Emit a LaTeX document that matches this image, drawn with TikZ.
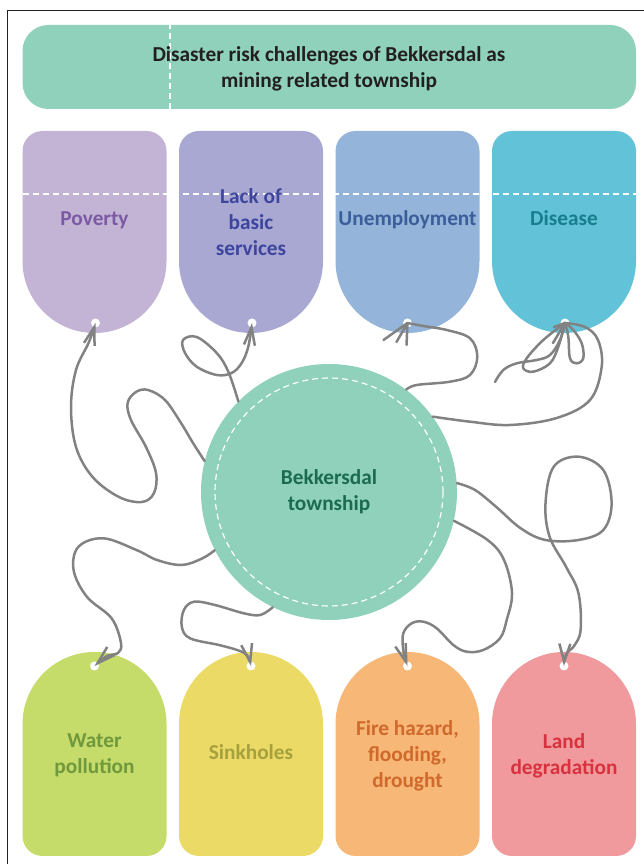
\documentclass[tikz,border=0pt]{standalone}
\usepackage{fontspec}
\setmainfont{Carlito}
\usetikzlibrary{arrows.meta}

\definecolor{mint}{HTML}{8FD1BB}
\definecolor{framegray}{HTML}{222222}
\definecolor{cordgray}{HTML}{828282}
\definecolor{povfill}{HTML}{C3B4D6}
\definecolor{lackfill}{HTML}{A8A8D2}
\definecolor{jobfill}{HTML}{94B4DA}
\definecolor{illfill}{HTML}{62C3D8}
\definecolor{waterfill}{HTML}{C5DB6A}
\definecolor{sinkfill}{HTML}{EBDA65}
\definecolor{firefill}{HTML}{F6B777}
\definecolor{landfill}{HTML}{F09A9D}
\definecolor{titletext}{HTML}{231F20}
\definecolor{povtext}{HTML}{7C5AA3}
\definecolor{lacktext}{HTML}{3E459F}
\definecolor{jobtext}{HTML}{3A5E9A}
\definecolor{illtext}{HTML}{177E8E}
\definecolor{towntext}{HTML}{1C6B50}
\definecolor{watertext}{HTML}{6F993C}
\definecolor{sinktext}{HTML}{A6A13E}
\definecolor{firetext}{HTML}{D06A2C}
\definecolor{landtext}{HTML}{D8323F}

\begin{document}
\begin{tikzpicture}[x=1pt, y=1pt, >={Straight Barb[length=18pt, width=11pt]},
    cord/.style={draw=cordgray, line width=2.5pt, line cap=round, line join=round},
    tagtext/.style={font=\fontsize{21.3}{25.8}\selectfont\bfseries, align=center},
    stitch/.style={draw=white, line width=1.2pt, dash pattern=on 6pt off 4pt}]
  \useasboundingbox (0,0) rectangle (644,864);
  \draw[framegray, line width=1.2pt] (644,853.7) -- (7.3,853.7) -- (7.3,0);

  \fill[mint, rounded corners=26] (22.5,755) rectangle (636,839);
  \draw[stitch] (170,755) -- (170,839);
  \node[tagtext, text=titletext] (title) at (329,795.5) {Disaster risk challenges of Bekkersdal as\\mining related township};

  \foreach \x/\col in {22.5/povfill, 179/lackfill, 335.5/jobfill, 492/illfill}
    \fill[\col] (\x,603) -- (\x,713) arc[start angle=180, end angle=90, radius=20]
      -- (\x+124,733) arc[start angle=90, end angle=0, radius=20]
      -- (\x+144,603) arc[start angle=0, end angle=-180, radius=72] -- cycle;
  \foreach \x/\col in {22.5/waterfill, 179/sinkfill, 335.5/firefill, 492/landfill}
    \fill[\col] (\x,140) -- (\x,28) arc[start angle=180, end angle=270, radius=20]
      -- (\x+124,8) arc[start angle=270, end angle=360, radius=20]
      -- (\x+144,140) arc[start angle=0, end angle=180, radius=72] -- cycle;
  \draw[stitch] (22.5,670) -- (644,670);

  \foreach \n/\x in {povhole/95.5, lackhole/252, jobhole/407.5, illhole/565}
    {\coordinate (\n) at (\x,541); \fill[white] (\n) circle[radius=4.5];}
  \foreach \n/\x in {waterhole/94.5, sinkhole/251, firehole/407.5, landhole/564}
    {\coordinate (\n) at (\x,198); \fill[white] (\n) circle[radius=4.5];}

  \node[tagtext, text=povtext] (poverty) at (94.5,644) {Poverty};
  \node[tagtext, text=lacktext] (services) at (251,642) {Lack of\\basic\\services};
  \node[tagtext, text=jobtext] (jobs) at (407.5,644) {Unemployment};
  \node[tagtext, text=illtext] (disease) at (564,646) {Disease};
  \node[tagtext, text=watertext] (water) at (94.5,108.5) {Water\\pollution};
  \node[tagtext, text=sinktext] (sinkholes) at (251,112) {Sinkholes};
  \node[tagtext, text=firetext] (fire) at (407.5,108) {Fire hazard,\\flooding,\\drought};
  \node[tagtext, text=landtext] (land) at (564,108.5) {Land\\degradation};

  \node[circle, fill=mint, minimum size=256pt, inner sep=0pt] (town) at (329,372) {};
  \draw[stitch] (town.center) circle[radius=114];
  \node[tagtext, text=towntext] (townname) at (town.center) {Bekkersdal\\township};

  % strings up to the top tags
  \draw[cord, ->] plot[smooth, tension=0.6] coordinates {(town.166) (193,421) (181,441) (165,464) (148,474) (136,472) (127.6,461) (131,444) (146,417) (156,391) (154,371) (142,362) (119,367) (92.6,387) (76,417) (71,457) (76,494) (89,522) (povhole)};
  \draw[cord, ->] plot[smooth, tension=0.6] coordinates {(town.135) (228.3,492.3) (216.7,511) (196.7,527) (183,524) (185,511) (196.7,497.3) (216.7,489) (231.7,491) (241.7,501) (248.3,517.3) (lackhole)};
  \draw[cord] plot[smooth, tension=0.6] coordinates {(town.53) (416.7,479) (450,482.3) (470,489) (477.3,507.3) (470,525.7) (446.7,534) (423.3,538) (jobhole)};
  \draw[cord] (jobhole) -- ++(-24,-17) (jobhole) -- ++(-11,-19) (jobhole) -- ++(-1,-22);
  \coordinate (looseend) at (495,482);
  \draw[cord] plot[smooth, tension=0.6] coordinates {(town.36) (470,442.3) (510,439) (556.7,446) (590,464) (601.7,497.3) (598,524) (585,537) (illhole)};
  \draw[cord] plot[smooth, tension=0.6] coordinates {(looseend) (503.3,494) (516.7,500.7) (536.7,504) (550,509) (560,524) (illhole)};
  \draw[cord] plot[smooth, tension=0.6] coordinates {(illhole) (543.3,524) (526.7,505.7) (523.3,495.7) (533.3,492.3) (550,500.7) (558.3,517.3) (illhole)};
  \draw[cord] plot[smooth, tension=0.6] coordinates {(illhole) (568.3,527.3) (570,505.7) (576.7,500.7) (583.3,505.7) (581.7,520.7) (573.3,534) (illhole)};
  \draw[cord] (illhole) -- ++(-11,-4) (illhole) -- ++(-12,-20);

  % strings down to the bottom tags
  \draw[cord, ->] plot[smooth, tension=0.6] coordinates {(town.207) (202.5,305.7) (181.8,299) (157,304) (136.4,314) (103.3,325.7) (78.5,317.3) (73.6,294) (86.8,267.3) (111.6,245.7) (121,221) (118,211) (107,208) (waterhole)};
  \draw[cord, ->] plot[smooth, tension=0.6] coordinates {(town.244) (260.3,249) (243.8,250.7) (214.9,259) (194.2,262.3) (183.9,254) (181.8,237.3) (190,225.7) (219,219) (237,214) (247,209) (sinkhole)};
  \draw[cord, ->] plot[smooth, tension=0.6] coordinates {(town.347) (487.6,324) (504,304) (512,271) (506.7,244) (500,225.7) (483.3,214) (466.7,212.3) (453.3,219) (436.7,235.7) (423.3,242.3) (411.7,240.7) (403.3,230.7) (403.3,214) (firehole)};
  \draw[cord, ->] plot[smooth, tension=0.6] coordinates {(town.4) (475,374) (496,357.3) (520.7,335.7) (545.5,324) (578.5,324) (603.3,334) (611.6,360.7) (603.3,394) (578.5,407.3) (553.7,397.3) (545.5,360.7) (549.6,327.3) (566,297.3) (578.5,270.7) (580.6,234) (574,218) (566,210) (landhole)};
\end{tikzpicture}
\end{document}
